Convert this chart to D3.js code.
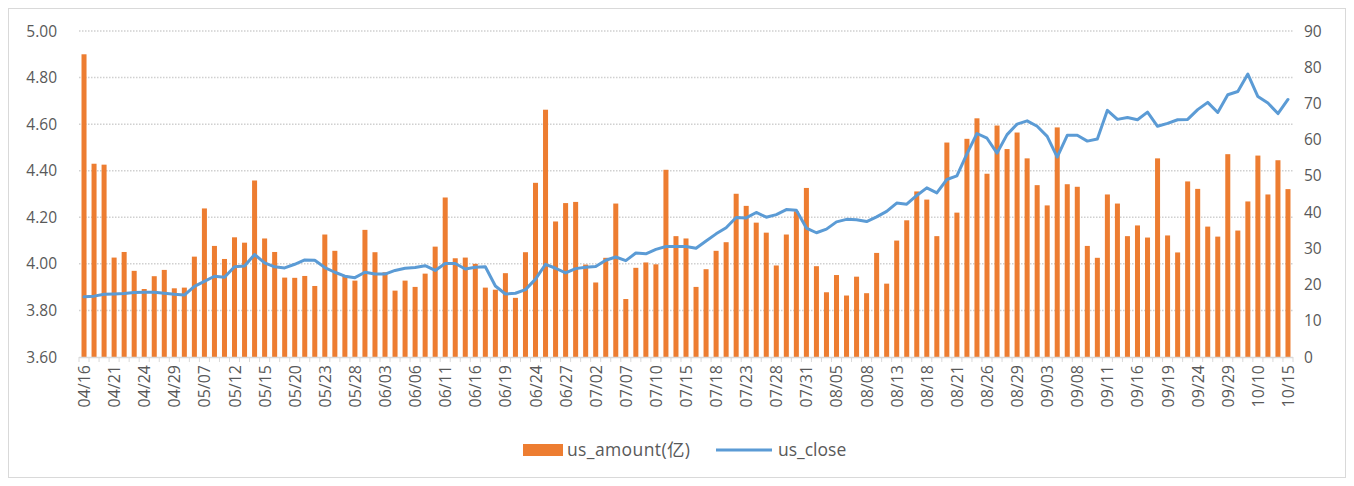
<!DOCTYPE html>
<html><head><meta charset="utf-8">
<script src="https://cdn.jsdelivr.net/npm/d3@7"></script>
<style>
body{margin:0;background:#fff;}
text{font-family:"Open Sans","Noto Sans","Noto Sans CJK SC",sans-serif;fill:#595959;}
</style></head>
<body><svg id="c" width="1354" height="486"></svg>
<script>
const dates = ["04/16","04/17","04/18","04/21","04/22","04/23","04/24","04/25","04/28","04/29","04/30",
"05/06","05/07","05/08","05/09","05/12","05/13","05/14","05/15","05/16","05/19","05/20","05/21","05/22","05/23","05/26","05/27","05/28","05/29","05/30",
"06/03","06/04","06/05","06/06","06/09","06/10","06/11","06/12","06/13","06/16","06/17","06/18","06/19","06/20","06/23","06/24","06/25","06/26","06/27","06/30",
"07/01","07/02","07/03","07/04","07/07","07/08","07/09","07/10","07/11","07/14","07/15","07/16","07/17","07/18","07/21","07/22","07/23","07/24","07/25","07/28","07/29","07/30","07/31",
"08/01","08/04","08/05","08/06","08/07","08/08","08/11","08/12","08/13","08/14","08/15","08/18","08/19","08/20","08/21","08/22","08/25","08/26","08/27","08/28","08/29",
"09/01","09/02","09/03","09/04","09/05","09/08","09/09","09/10","09/11","09/12","09/15","09/16","09/17","09/18","09/19","09/22","09/23","09/24","09/25","09/26","09/29","09/30",
"10/09","10/10","10/13","10/14","10/15"];

const usAmount = [4.90,4.43,4.426,4.027,4.051,3.970,3.892,3.947,3.974,3.895,3.898,4.031,4.238,4.077,4.021,4.114,4.091,4.358,4.109,4.051,
3.941,3.940,3.948,3.905,4.126,4.056,3.952,3.928,4.146,4.050,3.964,3.885,3.928,3.901,3.958,4.074,4.285,4.024,4.027,4.000,
3.898,3.889,3.960,3.854,4.050,4.348,4.662,4.182,4.261,4.266,3.997,3.920,4.026,4.259,3.849,3.983,4.006,3.998,4.404,4.119,
4.109,3.901,3.977,4.056,4.093,4.301,4.249,4.177,4.134,3.993,4.126,4.226,4.326,3.990,3.878,3.952,3.864,3.945,3.874,4.047,
3.915,4.100,4.187,4.311,4.276,4.119,4.521,4.220,4.537,4.625,4.387,4.594,4.493,4.564,4.453,4.338,4.251,4.586,4.342,4.331,
4.077,4.026,4.298,4.259,4.119,4.165,4.113,4.453,4.122,4.049,4.354,4.322,4.160,4.117,4.471,4.143,4.268,4.465,4.298,4.445,4.321];

const usClose = [16.6,16.8,17.3,17.4,17.5,17.8,17.9,17.9,17.6,17.3,17.1,19.5,20.9,22.3,22.0,24.9,25.1,28.3,26.0,24.9,
24.6,25.6,26.8,26.7,24.7,23.4,22.3,21.9,23.4,22.9,22.9,23.9,24.5,24.7,25.2,23.9,25.8,25.8,24.3,24.8,
24.9,19.6,17.4,17.6,18.6,21.5,25.6,24.5,23.2,24.4,24.8,25.0,26.7,27.6,26.6,28.7,28.5,29.7,30.5,30.5,
30.5,30.0,32.0,34.0,35.7,38.5,38.4,39.9,38.6,39.3,40.7,40.5,35.6,34.3,35.3,37.3,38.0,37.9,37.4,38.7,
40.2,42.5,42.2,44.6,46.7,45.3,49.0,50.0,56.1,61.7,60.4,56.3,61.4,64.3,65.2,63.7,60.9,55.2,61.2,61.2,
59.6,60.2,68.1,65.6,66.1,65.5,67.6,63.7,64.5,65.5,65.6,68.3,70.3,67.5,72.4,73.3,78.1,71.9,70.1,67.2,71.1];

const leftTicks = [3.60,3.80,4.00,4.20,4.40,4.60,4.80,5.00];
const rightTicks = [0,10,20,30,40,50,60,70,80,90];
const seriesNames = ["us_amount(亿)","us_close"];

const svg = d3.select("#c");
const L=79,R=1293,T=31,B=357;

svg.append("rect").attr("x",8.5).attr("y",8.5).attr("width",1337).attr("height",469)
  .attr("fill","#fff").attr("stroke","#d9d9d9");

const x = d3.scaleBand().domain(dates).range([L,R]).paddingInner(0.5).paddingOuter(0.25);
const xc = d=>x(d)+x.bandwidth()/2;
const yL = d3.scaleLinear().domain([3.6,5.0]).range([B,T]);
const yR = d3.scaleLinear().domain([0,90]).range([B,T]);

// gridlines
svg.append("g").selectAll("line").data(leftTicks.slice(1)).join("line")
  .attr("x1",L).attr("x2",R).attr("y1",d=>yL(d)).attr("y2",d=>yL(d))
  .attr("stroke","#d0d0d0").attr("stroke-width",1.5).attr("stroke-dasharray","1.5,1.5");

// bars
svg.append("g").selectAll("rect").data(dates).join("rect")
  .attr("x",d=>x(d)).attr("width",x.bandwidth())
  .attr("y",(d,i)=>yL(usAmount[i])).attr("height",(d,i)=>B-yL(usAmount[i]))
  .attr("fill","#ED7D31");

// x axis line + ticks
const gx = svg.append("g").attr("transform",`translate(0,${B})`);
gx.append("line").attr("x1",L).attr("x2",R).attr("y1",0.5).attr("y2",0.5).attr("stroke","#d9d9d9").attr("stroke-width",1.5);
const step = x.step();
gx.selectAll("line.tk").data(d3.range(dates.length+1)).join("line").attr("class","tk")
  .attr("x1",i=>L+i*step).attr("x2",i=>L+i*step).attr("y1",0).attr("y2",5)
  .attr("stroke","#d9d9d9");
gx.selectAll("text").data(dates.filter((d,i)=>i%3===0)).join("text")
  .attr("transform",d=>`translate(${xc(d)+6},8) rotate(-90)`)
  .attr("text-anchor","end").attr("font-size",16).text(d=>d);

// line
const line = d3.line().x((d,i)=>xc(dates[i])).y(d=>yR(d));
svg.append("path").datum(usClose).attr("d",line).attr("fill","none")
  .attr("stroke","#5B9BD5").attr("stroke-width",3).attr("stroke-linejoin","round").attr("stroke-linecap","round");

// left axis labels
svg.append("g").selectAll("text").data(leftTicks).join("text")
  .attr("x",57).attr("y",d=>yL(d)+5.5).attr("text-anchor","end").attr("font-size",15.5)
  .text(d=>d3.format(".2f")(d));
// right axis labels
svg.append("g").selectAll("text").data(rightTicks).join("text")
  .attr("x",1304).attr("y",d=>yR(d)+5.5).attr("text-anchor","start").attr("font-size",15.5)
  .text(d=>d);

// legend
const lg = svg.append("g");
lg.append("rect").attr("x",523).attr("y",444).attr("width",40).attr("height",12).attr("fill","#ED7D31");
lg.append("text").attr("x",567).attr("y",456).attr("font-size",17.5).attr("textLength",123).text(seriesNames[0]);
lg.append("line").attr("x1",716).attr("x2",772).attr("y1",450).attr("y2",450).attr("stroke","#5B9BD5").attr("stroke-width",3);
lg.append("text").attr("x",778).attr("y",456).attr("font-size",17.5).text(seriesNames[1]);
</script></body></html>
